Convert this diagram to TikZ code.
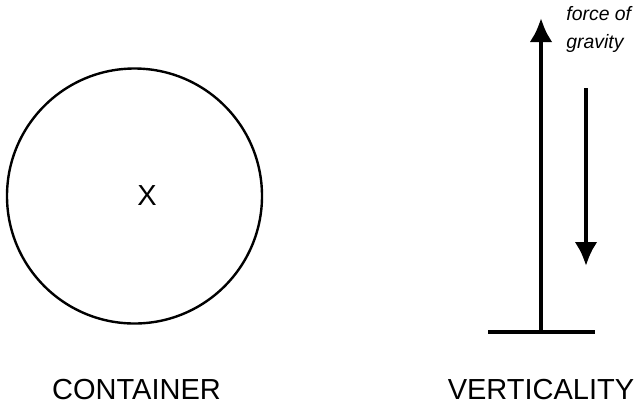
\documentclass[tikz,border=0pt]{standalone}
\usepackage{fontspec}
\setmainfont{Liberation Sans}
\usetikzlibrary{arrows.meta}
\definecolor{inkblack}{HTML}{000000}
\tikzset{
  ring/.style={circle, draw=inkblack, line width=1.2pt, minimum size=127.5pt, inner sep=0pt},
  shaft/.style={-{Latex[length=12pt, width=11.5pt]}, line width=2.3pt, color=inkblack},
  groundbar/.style={line width=2.2pt, color=inkblack},
  caption/.style={font=\fontsize{14.5}{18}\selectfont, inner sep=0pt},
  note/.style={font=\fontsize{9.7}{14}\selectfont\itshape, align=left, inner sep=0pt}
}
\begin{document}
\begin{tikzpicture}[x=0.5pt, y=-0.5pt]
\useasboundingbox (0,0) rectangle (635,409);
% container schema
\node[ring] (cont) at (134.5,196) {};
\node[caption] (xmark) at (147,196) {X};
\node[caption] (lcont) at (136.5,389) {CONTAINER};
% verticality schema
\coordinate (baseL) at (488,332);
\coordinate (baseR) at (595,332);
\coordinate (base) at (541,332);
\coordinate (top) at (541,18);
\coordinate (gtop) at (586,88);
\coordinate (gbot) at (586,266);
\draw[groundbar] (baseL) -- (baseR);
\draw[shaft] (base) -- (top);
\draw[shaft] (gtop) -- (gbot);
\node[note, anchor=north west] (force) at (566,6) {force of\\gravity};
\node[caption] (lvert) at (541,389) {VERTICALITY};
\end{tikzpicture}
\end{document}
